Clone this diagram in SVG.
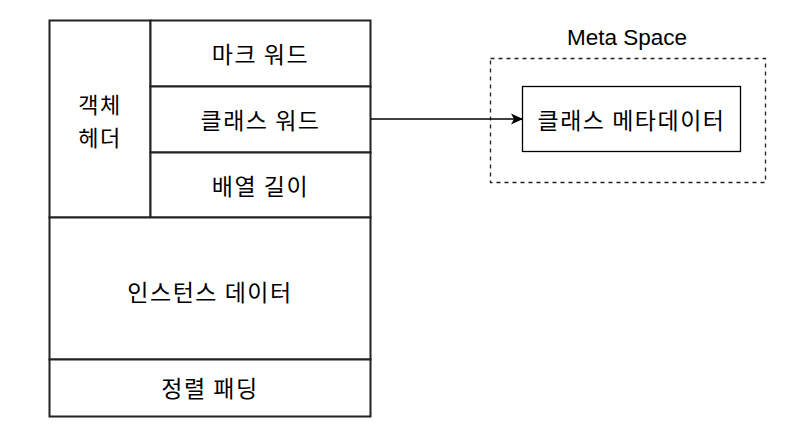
<svg xmlns="http://www.w3.org/2000/svg" width="801" height="426" viewBox="0 0 801 426">
<style>
.box{fill:#fff;stroke:#222;stroke-width:2}
.kr{font-family:"Noto Sans CJK KR","Noto Sans",sans-serif;font-size:23px;letter-spacing:1.5px;fill:#000;text-anchor:middle;dominant-baseline:central}
.lat{font-family:"Liberation Sans",Arial,sans-serif;font-size:22.5px;fill:#000;text-anchor:middle}
</style>
<defs>
<marker id="arr" viewBox="0 0 12 12" refX="11" refY="6" markerWidth="12" markerHeight="12" markerUnits="userSpaceOnUse" orient="auto">
<path d="M0,0.5 L12,6 L0,11.5 L3,6 Z" fill="#000"/>
</marker>
</defs>
<rect width="801" height="426" fill="#fff"/>
<g id="header">
<rect class="box" x="49.5" y="20.5" width="101" height="197"/>
<text class="kr" x="100" y="103" style="font-size:22px">객체</text>
<text class="kr" x="100" y="135.5" style="font-size:22px">헤더</text>
</g>
<g id="mark-word">
<rect class="box" x="150.5" y="20.5" width="220" height="66"/>
<text class="kr" x="260.5" y="53">마크 워드</text>
</g>
<g id="class-word">
<rect class="box" x="150.5" y="86.5" width="220" height="66"/>
<text class="kr" x="260.5" y="119">클래스 워드</text>
</g>
<g id="array-length">
<rect class="box" x="150.5" y="152.5" width="220" height="65"/>
<text class="kr" x="260.5" y="185">배열 길이</text>
</g>
<g id="instance-data">
<rect class="box" x="49.5" y="217.5" width="321" height="142"/>
<text class="kr" x="210" y="291">인스턴스 데이터</text>
</g>
<g id="padding">
<rect class="box" x="49.5" y="359.5" width="321" height="57"/>
<text class="kr" x="210" y="387">정렬 패딩</text>
</g>
<g id="meta-space">
<rect x="490.5" y="58.5" width="275" height="124" fill="none" stroke="#222" stroke-width="1.3" stroke-dasharray="4,4"/>
<text class="lat" x="627" y="45">Meta Space</text>
</g>
<g id="class-metadata">
<rect x="522.5" y="86.5" width="218" height="65" fill="#fff" stroke="#000" stroke-width="1.3"/>
<text class="kr" x="631.5" y="119">클래스 메타데이터</text>
</g>
<g id="connectors">
<line x1="371" y1="119" x2="522" y2="119" stroke="#000" stroke-width="1.3" marker-end="url(#arr)"/>
</g>
</svg>
